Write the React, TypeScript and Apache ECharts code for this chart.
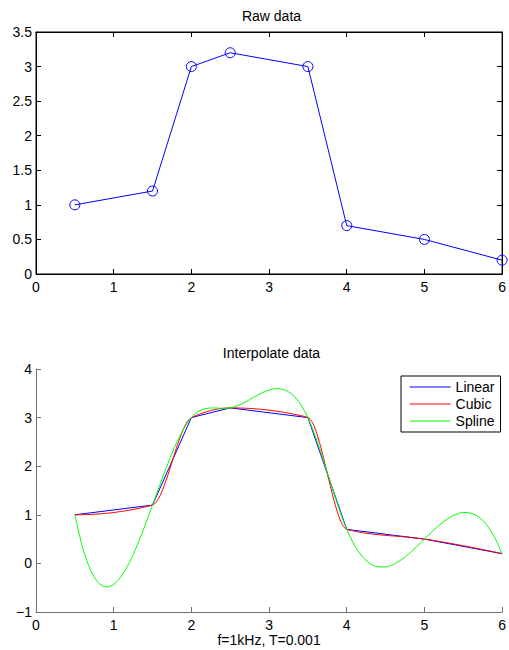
import React, { useEffect, useRef } from "react";
import * as echarts from "echarts";

const rawX = [0.5, 1.5, 2, 2.5, 3.5, 4, 5, 6];
const rawY = [1, 1.2, 3, 3.2, 3, 0.7, 0.5, 0.2];

const cubicX = [
  0.5, 0.6, 0.7, 0.8, 0.9, 1.0, 1.1, 1.2, 1.3, 1.4, 1.5,
  1.55, 1.6, 1.65, 1.7, 1.75, 1.8, 1.85, 1.9, 1.95, 2.0,
  2.1, 2.2, 2.3, 2.4, 2.5,
  2.7, 2.9, 3.1, 3.3, 3.5,
  3.55, 3.6, 3.65, 3.7, 3.75, 3.8, 3.85, 3.9, 3.95, 4.0,
  4.05, 4.1, 4.2, 4.4, 4.6, 4.8, 5.0,
  5.2, 5.4, 5.6, 5.8, 6.0,
];
const cubicY = [
  1, 1.0018, 1.0073, 1.0167, 1.03, 1.0474, 1.069, 1.095, 1.1253, 1.1603, 1.2,
  1.2642, 1.4026, 1.5971, 1.8293, 2.0813, 2.3348, 2.5715, 2.7735, 2.9223, 3.0,
  3.0669, 3.1222, 3.1642, 3.1907, 3.2,
  3.1929, 3.1706, 3.1319, 3.0754, 3.0,
  2.9202, 2.7403, 2.4853, 2.1802, 1.85, 1.5198, 1.2147, 0.9597, 0.7798, 0.7,
  0.6799, 0.662, 0.6323, 0.5912, 0.564, 0.5379, 0.5,
  0.4493, 0.3934, 0.333, 0.2683, 0.2,
];

const splineX = [
  0.5, 0.6, 0.7, 0.8, 0.9, 1.0, 1.1, 1.2, 1.3, 1.4, 1.5,
  1.55, 1.6, 1.65, 1.7, 1.75, 1.8, 1.85, 1.9, 1.95, 2.0,
  2.05, 2.1, 2.15, 2.2, 2.25, 2.3, 2.35, 2.4, 2.45, 2.5,
  2.6, 2.7, 2.8, 2.9, 3.0, 3.1, 3.2, 3.3, 3.4, 3.5,
  3.55, 3.6, 3.65, 3.7, 3.75, 3.8, 3.85, 3.9, 3.95, 4.0,
  4.1, 4.2, 4.3, 4.4, 4.5, 4.6, 4.7, 4.8, 4.9, 5.0,
  5.1, 5.2, 5.3, 5.4, 5.5, 5.6, 5.7, 5.8, 5.9, 6.0,
];
const splineY = [
  1, 0.3287, -0.1271, -0.3906, -0.485, -0.4335, -0.2594, 0.0143, 0.3642, 0.7672, 1.2,
  1.4204, 1.6395, 1.8545, 2.0625, 2.2605, 2.4457, 2.6151, 2.7659, 2.8952, 3.0,
  3.0786, 3.1338, 3.1695, 3.1895, 3.1978, 3.1982, 3.1948, 3.1913, 3.1918, 3.2,
  3.2474, 3.3248, 3.4153, 3.502, 3.5682, 3.5968, 3.5712, 3.4744, 3.2896, 3.0,
  2.8119, 2.5992, 2.3675, 2.1227, 1.8704, 1.6166, 1.3669, 1.127, 0.9028, 0.7,
  0.3721, 0.1418, -0.0017, -0.0696, -0.0726, -0.0219, 0.0718, 0.1972, 0.3436, 0.5,
  0.6554, 0.7988, 0.9193, 1.0059, 1.0476, 1.0336, 0.9527, 0.7942, 0.5469, 0.2,
];

const legendNames = ["Linear", "Cubic", "Spline"];
const titles = ["Raw data", "Interpolate data"];
const xLabel = "f=1kHz, T=0.001";

const zip = (xs: number[], ys: number[]) => xs.map((x, i) => [x, ys[i]]);

const FONT = "'Liberation Sans', Arial, Helvetica, sans-serif";
const FS = 14;

export default function App() {
  const ref = useRef<HTMLDivElement>(null);
  useEffect(() => {
    if (!ref.current) return;
    const chart = echarts.init(ref.current, null, { renderer: "svg" });
    const fmt = (v: number) => (v < 0 ? "\u2212" + Math.abs(v) : String(v));
    const blackAxis = {
      axisLine: { show: true, onZero: false, lineStyle: { color: "#000", width: 1 } },
      axisTick: { show: true, inside: true, length: 5, lineStyle: { color: "#000" } },
      splitLine: { show: false },
    };
    const grayAxis = {
      axisLine: { show: true, onZero: false, lineStyle: { color: "#707070", width: 1 } },
      axisTick: { show: true, inside: true, length: 5, lineStyle: { color: "#707070" } },
      splitLine: { show: false },
    };
    const labelStyle = { color: "#000", fontSize: FS, fontFamily: FONT };
    chart.setOption({
      animation: false,
      textStyle: { fontFamily: FONT },
      grid: [
        { left: 36, top: 32, width: 471, height: 242, show: true, borderColor: "#000", borderWidth: 1, backgroundColor: "transparent" },
        { left: 36, top: 369, width: 471, height: 243 },
      ],
      xAxis: [
        {
          type: "value", gridIndex: 0, position: "bottom", min: 0, max: 6, interval: 1,
          ...blackAxis, axisLabel: { ...labelStyle, margin: 6, formatter: fmt },
        },
        {
          type: "value", gridIndex: 0, position: "top", min: 0, max: 6, interval: 1,
          ...blackAxis, axisLabel: { show: false },
        },
        {
          type: "value", gridIndex: 1, position: "bottom", min: 0, max: 6, interval: 1,
          ...grayAxis, axisLabel: { ...labelStyle, margin: 6, formatter: fmt },
          name: xLabel, nameLocation: "middle", nameGap: 21,
          nameTextStyle: { ...labelStyle, verticalAlign: "top" },
        },
      ],
      yAxis: [
        {
          type: "value", gridIndex: 0, position: "left", min: 0, max: 3.5, interval: 0.5,
          ...blackAxis, axisLabel: { ...labelStyle, margin: 4, formatter: fmt },
        },
        {
          type: "value", gridIndex: 0, position: "right", min: 0, max: 3.5, interval: 0.5,
          ...blackAxis, axisLabel: { show: false },
        },
        {
          type: "value", gridIndex: 1, position: "left", min: -1, max: 4, interval: 1,
          ...grayAxis, axisLabel: { ...labelStyle, margin: 4, formatter: fmt },
        },
      ],
      legend: {
        orient: "vertical",
        left: 401,
        top: 376,
        padding: [4, 6, 4, 8],
        itemGap: 3,
        itemWidth: 41,
        itemHeight: 14,
        borderColor: "#000",
        borderWidth: 1,
        borderRadius: 0,
        backgroundColor: "#fff",
        itemStyle: { opacity: 0 },
        lineStyle: { width: 1.2 },
        textStyle: { ...labelStyle },
        data: legendNames,
      },
      graphic: [
        {
          type: "text", x: 271.5, y: 16,
          style: { text: titles[0], fill: "#000", font: `${FS}px ${FONT}`, textAlign: "center", textVerticalAlign: "middle" },
        },
        {
          type: "text", x: 271.5, y: 353,
          style: { text: titles[1], fill: "#000", font: `${FS}px ${FONT}`, textAlign: "center", textVerticalAlign: "middle" },
        },
      ],
      series: [
        {
          name: "Raw data",
          type: "line",
          xAxisIndex: 0,
          yAxisIndex: 0,
          data: zip(rawX, rawY),
          symbol: "circle",
          symbolSize: 10,
          lineStyle: { color: "#0000ff", width: 1 },
          itemStyle: { color: "rgba(0,0,0,0)", borderColor: "#0000ff", borderWidth: 1 },
          clip: true,
        },
        {
          name: legendNames[0],
          type: "line",
          xAxisIndex: 2,
          yAxisIndex: 2,
          data: zip(rawX, rawY),
          symbol: "none",
          lineStyle: { color: "#0000ff", width: 1 },
          itemStyle: { color: "#0000ff" },
        },
        {
          name: legendNames[1],
          type: "line",
          xAxisIndex: 2,
          yAxisIndex: 2,
          data: zip(cubicX, cubicY),
          symbol: "none",
          smooth: 0.3,
          lineStyle: { color: "#ff0000", width: 1 },
          itemStyle: { color: "#ff0000" },
        },
        {
          name: legendNames[2],
          type: "line",
          xAxisIndex: 2,
          yAxisIndex: 2,
          data: zip(splineX, splineY),
          symbol: "none",
          smooth: 0.3,
          lineStyle: { color: "#00ff00", width: 1 },
          itemStyle: { color: "#00ff00" },
        },
      ],
    });
    return () => chart.dispose();
  }, []);
  return (
    <div
      ref={ref}
      style={{ position: "fixed", left: 0, top: 0, width: 509, height: 650, background: "#fff" }}
    />
  );
}
